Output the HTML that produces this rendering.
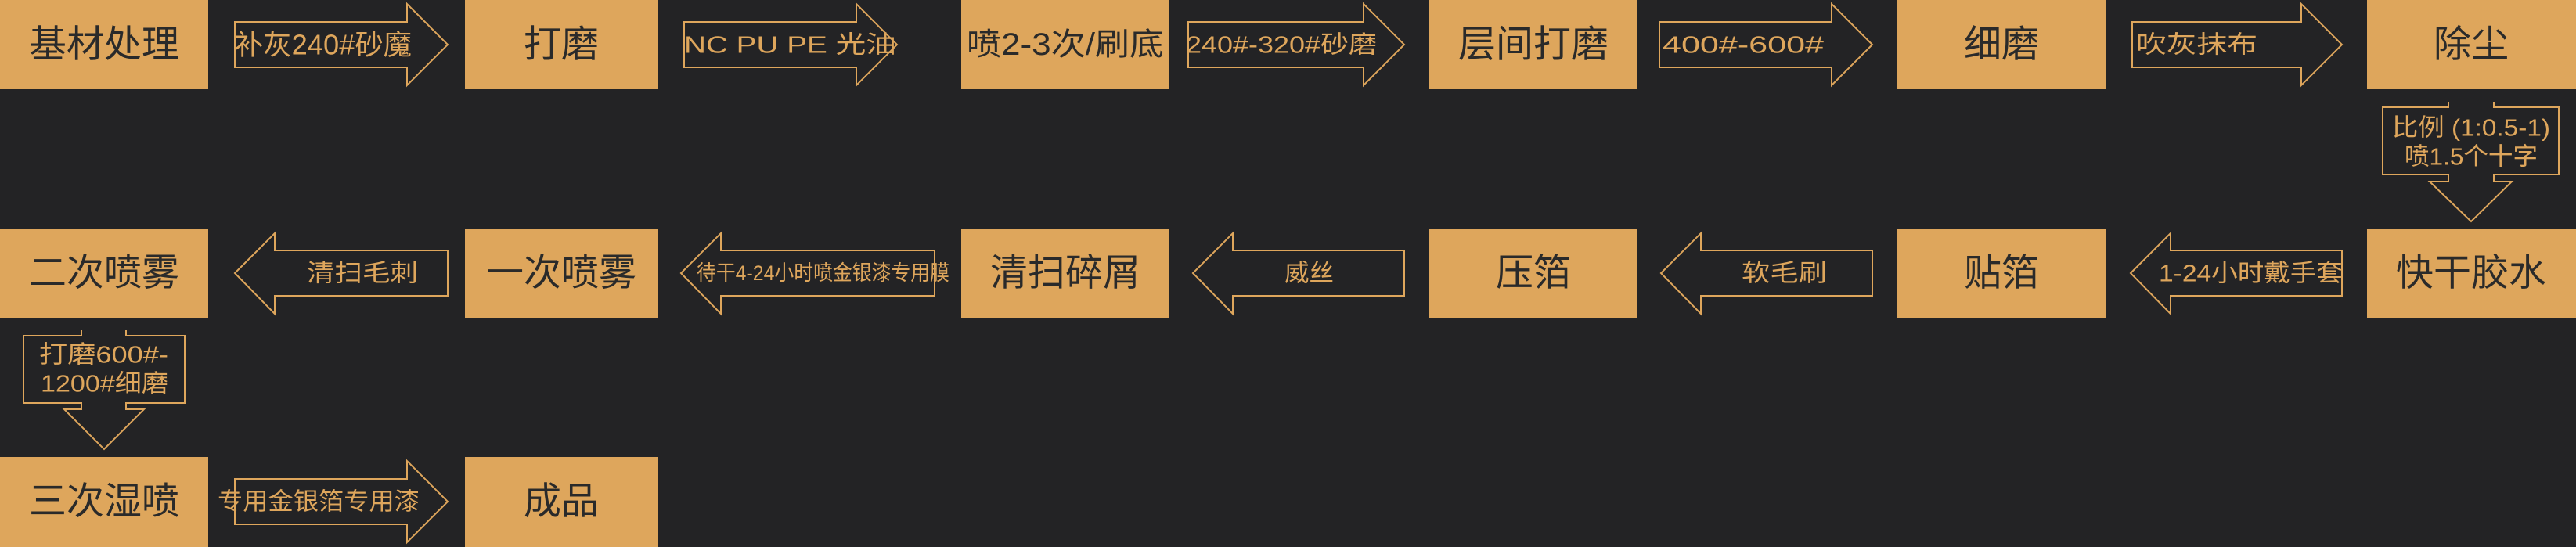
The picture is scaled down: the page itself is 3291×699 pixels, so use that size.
<!DOCTYPE html>
<html><head><meta charset="utf-8"><style>
html,body{margin:0;padding:0;background:#232325;}
svg{display:block}
text{font-family:"Liberation Sans","Noto Sans CJK SC",sans-serif;dominant-baseline:central}
.b{fill:#2a2a2a;font-size:48px}
.l{fill:#dea65c;font-size:31px}
</style></head><body>
<svg width="3291" height="699" viewBox="0 0 3291 699" xmlns="http://www.w3.org/2000/svg">
<rect width="3291" height="699" fill="#232325"/>
<g fill="#dea65c">
<rect x="0" y="0" width="266" height="114"/>
<rect x="594" y="0" width="246" height="114"/>
<rect x="1228" y="0" width="266" height="114"/>
<rect x="1826" y="0" width="266" height="114"/>
<rect x="2424" y="0" width="266" height="114"/>
<rect x="3024" y="0" width="267" height="114"/>
<rect x="0" y="292" width="266" height="114"/>
<rect x="594" y="292" width="246" height="114"/>
<rect x="1228" y="292" width="266" height="114"/>
<rect x="1826" y="292" width="266" height="114"/>
<rect x="2424" y="292" width="266" height="114"/>
<rect x="3024" y="292" width="267" height="114"/>
<rect x="0" y="584" width="266" height="115"/>
<rect x="594" y="584" width="246" height="115"/>
</g>
<g fill="none" stroke="#dea65c" stroke-width="2">
<polygon points="300,28 520,28 520,5 572,57 520,109 520,86 300,86"/>
<polygon points="874,28 1094,28 1094,5 1146,57 1094,109 1094,86 874,86"/>
<polygon points="1518,28 1742,28 1742,5 1794,57 1742,109 1742,86 1518,86"/>
<polygon points="2120,28 2340,28 2340,5 2392,57 2340,109 2340,86 2120,86"/>
<polygon points="2724,28 2940,28 2940,5 2992,57 2940,109 2940,86 2724,86"/>
<polygon points="300,349 351,298 351,320 572,320 572,378 351,378 351,401"/>
<polygon points="870,349 921,298 921,320 1194,320 1194,378 921,378 921,401"/>
<polygon points="1524,349 1575,298 1575,320 1794,320 1794,378 1575,378 1575,401"/>
<polygon points="2122,349 2173,298 2173,320 2392,320 2392,378 2173,378 2173,401"/>
<polygon points="2722,349 2773,298 2773,320 2992,320 2992,378 2773,378 2773,401"/>
<polygon points="300,612 520,612 520,589 572,641 520,693 520,670 300,670"/>
<polyline points="3128,130 3128,137 3044,137 3044,223 3128,223 3128,232 3104,232 3157,283 3209,232 3186,232 3186,223 3269,223 3269,137 3186,137 3186,130"/>
<polyline points="104,422 104,429 30,429 30,515 104,515 104,523 82,523 133,574 184,523 161,523 161,515 236,515 236,429 161,429 161,422"/>
</g>
<g class="b" text-anchor="middle">
<text x="133" y="57">基材处理</text>
<text x="717" y="57">打磨</text>
<text x="1361" y="57" textLength="252" lengthAdjust="spacingAndGlyphs" style="font-size:40px">喷2-3次/刷底</text>
<text x="1959" y="57">层间打磨</text>
<text x="2557" y="57">细磨</text>
<text x="3157" y="57">除尘</text>
<text x="133" y="349">二次喷雾</text>
<text x="717" y="349">一次喷雾</text>
<text x="1361" y="349">清扫碎屑</text>
<text x="1959" y="349">压箔</text>
<text x="2557" y="349">贴箔</text>
<text x="3157" y="349">快干胶水</text>
<text x="133" y="641">三次湿喷</text>
<text x="717" y="641">成品</text>
</g>
<g class="l">
<text x="300" y="57" textLength="226" lengthAdjust="spacingAndGlyphs" style="font-size:36px">补灰240#砂魔</text>
<text x="874" y="57" textLength="271" lengthAdjust="spacingAndGlyphs">NC PU PE 光油</text>
<text x="1515" y="57" textLength="244" lengthAdjust="spacingAndGlyphs">240#-320#砂磨</text>
<text x="2124" y="57" textLength="206" lengthAdjust="spacingAndGlyphs">400#-600#</text>
<text x="2729" y="57" textLength="155" lengthAdjust="spacingAndGlyphs">吹灰抹布</text>
<text x="392" y="349" textLength="142" lengthAdjust="spacingAndGlyphs">清扫毛刺</text>
<text x="890" y="349" textLength="323" lengthAdjust="spacingAndGlyphs" style="font-size:27px">待干4-24小时喷金银漆专用膜</text>
<text x="1641" y="349" textLength="63" lengthAdjust="spacingAndGlyphs">威丝</text>
<text x="2225" y="349" textLength="109" lengthAdjust="spacingAndGlyphs">软毛刷</text>
<text x="2758" y="349" textLength="235" lengthAdjust="spacingAndGlyphs">1-24小时戴手套</text>
<text x="278" y="641" textLength="258" lengthAdjust="spacingAndGlyphs">专用金银箔专用漆</text>
<text x="3056" y="163" textLength="202" lengthAdjust="spacingAndGlyphs">比例 (1:0.5-1)</text>
<text x="3072" y="200" textLength="170" lengthAdjust="spacingAndGlyphs">喷1.5个十字</text>
<text x="50" y="453" textLength="165" lengthAdjust="spacingAndGlyphs">打磨600#-</text>
<text x="52" y="490" textLength="163" lengthAdjust="spacingAndGlyphs">1200#细磨</text>
</g>
</svg>
</body></html>
